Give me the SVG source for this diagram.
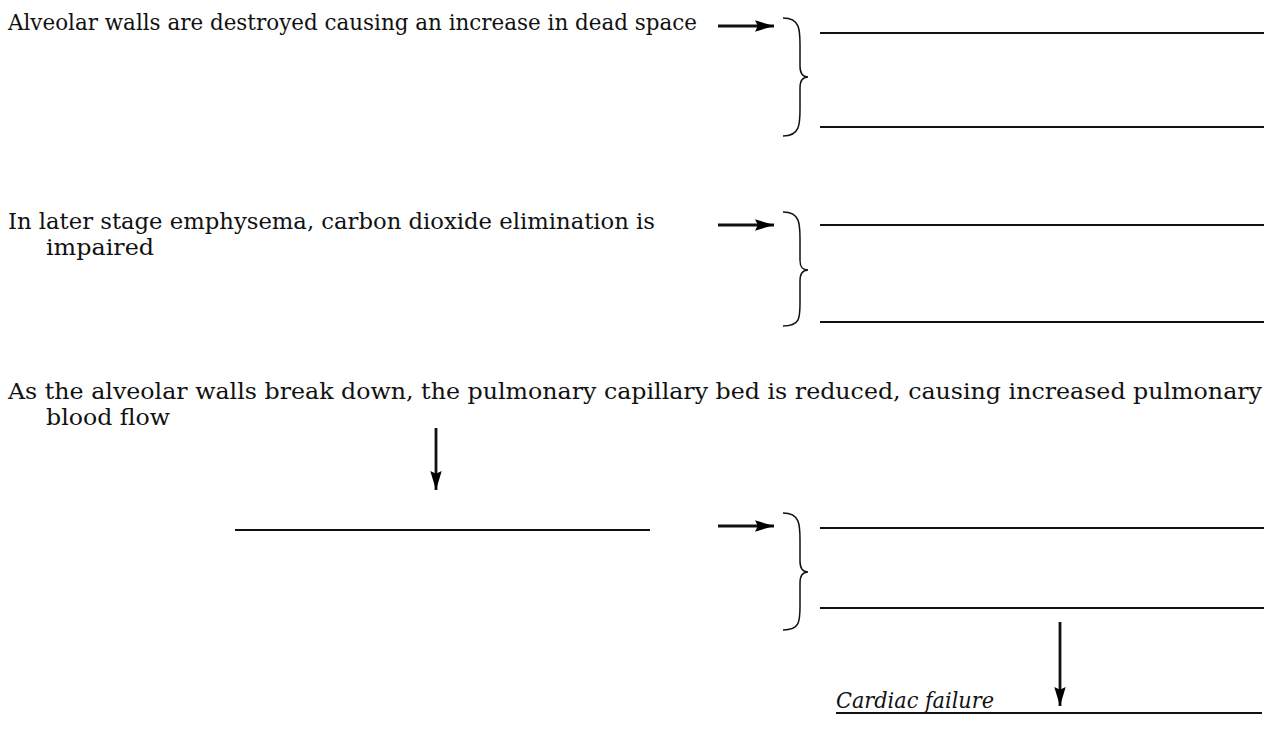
<svg xmlns="http://www.w3.org/2000/svg" width="1274" height="738" viewBox="0 0 1274 738">
<defs>
<marker id="ah2" viewBox="0 0 20 12" refX="20" refY="6" markerWidth="19" markerHeight="12" markerUnits="userSpaceOnUse" orient="auto">
<path d="M0,0 L20,6 L0,12 L3,6 Z" fill="#000"/>
</marker>
<style>
.t{font-family:"DejaVu Serif","Liberation Serif",serif;font-size:22px;fill:#111}
.i{font-style:italic}
.ln{stroke:#111;stroke-width:2;fill:none}
.ar{stroke:#111;stroke-width:2.8;fill:none;marker-end:url(#ah2)}
.br{stroke:#111;stroke-width:1.5;fill:none}
</style>
</defs>
<rect width="1274" height="738" fill="#fff"/>
<g id="n1">
<text class="t" x="8" y="30" textLength="689" lengthAdjust="spacingAndGlyphs">Alveolar walls are destroyed causing an increase in dead space</text>
</g>
<g id="n1r">
<path class="br" d="M783,18 C800,18 800,30 800,45 L800,66 C800,74 803,77 808,77 C803,77 800,80 800,88 L800,109 C800,124 800,136 783,136"/>
<line class="ln" x1="820" y1="33" x2="1264" y2="33"/>
<line class="ln" x1="820" y1="127" x2="1264" y2="127"/>
</g>
<g id="n2">
<text class="t" x="8" y="229" textLength="647" lengthAdjust="spacingAndGlyphs">In later stage emphysema, carbon dioxide elimination is</text>
<text class="t" x="46" y="255" textLength="108" lengthAdjust="spacingAndGlyphs">impaired</text>
</g>
<g id="n2r">
<path class="br" d="M783,212 C800,212 800,224 800,239 L800,260 C800,268 803,270 808,270 C803,270 800,273 800,281 L800,303 C800,318 800,326 783,326"/>
<line class="ln" x1="820" y1="225" x2="1264" y2="225"/>
<line class="ln" x1="820" y1="322" x2="1264" y2="322"/>
</g>
<g id="n3">
<text class="t" x="8" y="399" textLength="1254" lengthAdjust="spacingAndGlyphs">As the alveolar walls break down, the pulmonary capillary bed is reduced, causing increased pulmonary</text>
<text class="t" x="46" y="425" textLength="124" lengthAdjust="spacingAndGlyphs">blood flow</text>
</g>
<g id="n4">
<line class="ln" x1="235" y1="530" x2="650" y2="530"/>
</g>
<g id="n4r">
<path class="br" d="M783,513 C800,513 800,525 800,540 L800,561 C800,569 803,572 808,572 C803,572 800,575 800,583 L800,606 C800,621 800,630 783,630"/>
<line class="ln" x1="820" y1="528" x2="1264" y2="528"/>
<line class="ln" x1="820" y1="608" x2="1264" y2="608"/>
</g>
<g id="n5">
<text class="t i" x="836" y="708" textLength="158" lengthAdjust="spacingAndGlyphs">Cardiac failure</text>
<line class="ln" x1="836" y1="713" x2="1262" y2="713"/>
</g>
<g id="connectors">
<line class="ar" x1="718" y1="26" x2="774" y2="26"/>
<line class="ar" x1="718" y1="225" x2="774" y2="225"/>
<line class="ar" x1="436" y1="428" x2="436" y2="490"/>
<line class="ar" x1="718" y1="526" x2="774" y2="526"/>
<line class="ar" x1="1060" y1="622" x2="1060" y2="706"/>
</g>
</svg>
